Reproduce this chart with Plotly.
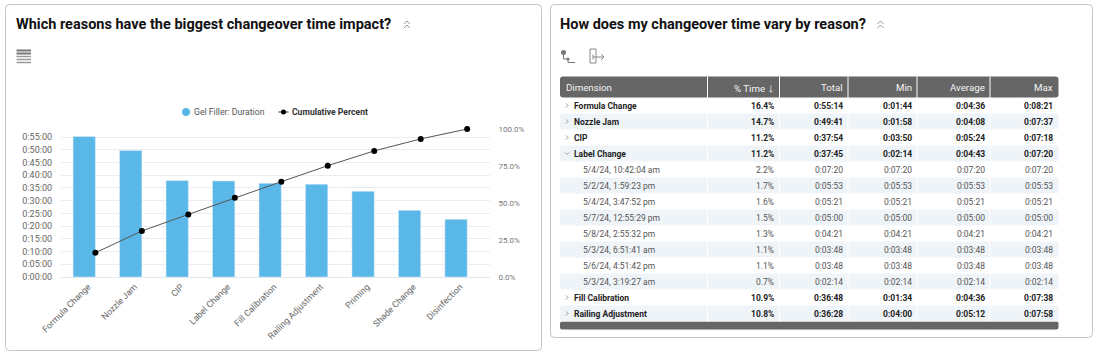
import plotly.graph_objects as go

W, H = 1100, 358

# ---- Pareto data
reasons = ["Formula Change", "Nozzle Jam", "CIP", "Label Change", "Fill Calibration",
           "Railing Adjustment", "Priming", "Shade Change", "Disinfection"]
duration_text = ["0:55:14", "0:49:41", "0:37:54", "0:37:45", "0:36:48", "0:36:28", "0:33:40", "0:26:11", "0:22:39"]
cumulative_pct = [16.4, 31.1, 42.3, 53.5, 64.4, 75.2, 85.2, 93.3, 100.0]
left_tick_labels = ["0:00:00", "0:05:00", "0:10:00", "0:15:00", "0:20:00", "0:25:00", "0:30:00",
                    "0:35:00", "0:40:00", "0:45:00", "0:50:00", "0:55:00"]
right_tick_vals = [0, 25, 50, 75, 100]
right_tick_labels = ["0.0%", "25.0%", "50.0%", "75.0%", "100.0%"]

# ---- Table data
dimension = ["Formula Change", "Nozzle Jam", "CIP", "Label Change",
             "5/4/24, 10:42:04 am", "5/2/24, 1:59:23 pm", "5/4/24, 3:47:52 pm", "5/7/24, 12:55:29 pm",
             "5/8/24, 2:55:32 pm", "5/3/24, 6:51:41 am", "5/6/24, 4:51:42 pm", "5/3/24, 3:19:27 am",
             "Fill Calibration", "Railing Adjustment"]
row_level = [0, 0, 0, 0, 1, 1, 1, 1, 1, 1, 1, 1, 0, 0]
row_open = [0, 0, 0, 1, 0, 0, 0, 0, 0, 0, 0, 0, 0, 0]
pct_time = ["16.4%", "14.7%", "11.2%", "11.2%", "2.2%", "1.7%", "1.6%", "1.5%", "1.3%", "1.1%", "1.1%", "0.7%", "10.9%", "10.8%"]
total_t = ["0:55:14", "0:49:41", "0:37:54", "0:37:45", "0:07:20", "0:05:53", "0:05:21", "0:05:00", "0:04:21", "0:03:48", "0:03:48", "0:02:14", "0:36:48", "0:36:28"]
min_t = ["0:01:44", "0:01:58", "0:03:50", "0:02:14", "0:07:20", "0:05:53", "0:05:21", "0:05:00", "0:04:21", "0:03:48", "0:03:48", "0:02:14", "0:01:34", "0:04:00"]
avg_t = ["0:04:36", "0:04:08", "0:05:24", "0:04:43", "0:07:20", "0:05:53", "0:05:21", "0:05:00", "0:04:21", "0:03:48", "0:03:48", "0:02:14", "0:04:36", "0:05:12"]
max_t = ["0:08:21", "0:07:37", "0:07:18", "0:07:20", "0:07:20", "0:05:53", "0:05:21", "0:05:00", "0:04:21", "0:03:48", "0:03:48", "0:02:14", "0:07:38", "0:07:58"]
headers = ["Dimension", "% Time ↓", "Total", "Min", "Average", "Max"]
col_edges = [560, 707.5, 779.5, 848, 917, 990, 1058.5]


def secs(t):
    h, m, s = t.split(":")
    return int(h) * 3600 + int(m) * 60 + int(s)


def px(x):
    return x / W


def py(y):
    return 1 - y / H


BLUE = "#5ab8e8"
GREY = "#666666"
TABLE_TOP = 76.5
HEADER_H = 21
ROW_H = 16
TABLE_BOTTOM = TABLE_TOP + HEADER_H + ROW_H * len(dimension)

fig = go.Figure()
fig.add_trace(go.Bar(x=reasons, y=[secs(t) for t in duration_text], width=0.48,
                     marker=dict(color=BLUE), xaxis="x", yaxis="y", showlegend=False))
fig.add_trace(go.Scatter(x=reasons, y=cumulative_pct, mode="lines+markers", xaxis="x2", yaxis="y2",
                         line=dict(color="#555555", width=1), cliponaxis=False,
                         marker=dict(color="#000000", size=6), showlegend=False))


def rrect(x0, y0, x1, y1, r):
    X0, X1, Y0, Y1 = px(x0), px(x1), py(y0), py(y1)
    rx, ry = r / W, r / H
    return (f"M{X0+rx},{Y0} L{X1-rx},{Y0} Q{X1},{Y0} {X1},{Y0-ry} L{X1},{Y1+ry} Q{X1},{Y1} {X1-rx},{Y1} "
            f"L{X0+rx},{Y1} Q{X0},{Y1} {X0},{Y1+ry} L{X0},{Y0-ry} Q{X0},{Y0} {X0+rx},{Y0} Z")


def rshape(x0, y0, x1, y1, r, fill, line=None):
    return dict(type="path", xref="paper", yref="paper", path=rrect(x0, y0, x1, y1, r),
                fillcolor=fill, line=line or dict(width=0), layer="below")


def path(points, **kw):
    d = "M" + " L".join(f"{px(a)},{py(b)}" for a, b in points)
    return dict(type="path", xref="paper", yref="paper", path=d, **kw)


def hline(x0, x1, y, color, w):
    return dict(type="line", xref="paper", yref="paper", x0=px(x0), x1=px(x1), y0=py(y), y1=py(y),
                line=dict(color=color, width=w))


card = dict(color="#c4c4c4", width=1)
clear = "rgba(0,0,0,0)"
shapes = [
    rshape(5.5, 4.5, 541.5, 350.5, 4, clear, card),
    rshape(550.5, 4.5, 1092.5, 337.5, 4, clear, card),
    # table header and footer
    rshape(col_edges[0], TABLE_TOP, col_edges[-1], TABLE_TOP + HEADER_H, 3, GREY),
    rshape(col_edges[0], TABLE_BOTTOM, col_edges[-1], TABLE_BOTTOM + 8, 2, GREY),
    # legend swatches
    dict(type="circle", xref="paper", yref="paper", x0=px(182), x1=px(190), y0=py(116), y1=py(108),
         fillcolor=BLUE, line=dict(width=0)),
    hline(278.5, 288.5, 112, "#333333", 1),
    dict(type="circle", xref="paper", yref="paper", x0=px(281), x1=px(286), y0=py(114.5), y1=py(109.5),
         fillcolor="#000000", line=dict(width=0)),
]
# banded rows
for i in range(1, len(dimension), 2):
    y0 = TABLE_TOP + HEADER_H + ROW_H * i
    shapes.append(rshape(col_edges[0], y0, col_edges[-1], y0 + ROW_H, 2, "#eff4f9"))
# column separators
for e in col_edges[1:-1]:
    shapes.append(dict(type="line", xref="paper", yref="paper", x0=px(e), x1=px(e), y0=py(TABLE_BOTTOM), y1=py(TABLE_TOP),
                       line=dict(color="#ffffff", width=1), layer="below"))
# collapse chevrons next to the titles
for cx in (407, 880.5):
    for dy in (0, 4):
        shapes.append(path([(cx - 3, 24 + dy), (cx, 21 + dy), (cx + 3, 24 + dy)], line=dict(color="#999999", width=1)))
# row expand chevrons
for i, level in enumerate(row_level):
    if level == 0:
        cy = TABLE_TOP + HEADER_H + ROW_H * (i + 0.5)
        pts = [(565, cy - 1), (567, cy + 1), (569, cy - 1)] if row_open[i] else [(566, cy - 2), (568, cy), (566, cy + 2)]
        shapes.append(path(pts, line=dict(color="#999999", width=1)))
# table icon
for y, c, w in [(50.5, "#777777", 2), (53.5, "#777777", 2), (56.5, "#999999", 1.5), (59.5, "#999999", 1.5), (62.5, "#999999", 1.5)]:
    shapes.append(hline(16.5, 31, y, c, w))
# tree icon
shapes += [
    dict(type="circle", xref="paper", yref="paper", x0=px(561), x1=px(566), y0=py(55), y1=py(50),
         fillcolor="#777777", line=dict(width=0)),
    path([(563.5, 55), (563.5, 59), (568, 59), (568, 62.5), (575, 62.5)], line=dict(color="#777777", width=1)),
    dict(type="circle", xref="paper", yref="paper", x0=px(566.5), x1=px(569.5), y0=py(60.5), y1=py(57.5),
         fillcolor="#777777", line=dict(width=0)),
    dict(type="rect", xref="paper", yref="paper", x0=px(590), x1=px(596), y0=py(63), y1=py(49),
         line=dict(color="#888888", width=1)),
    path([(593, 57), (604, 57)], line=dict(color="#888888", width=1)),
    path([(593, 54.5), (593, 59.5)], line=dict(color="#888888", width=1)),
    path([(601, 54), (604, 57), (601, 60)], line=dict(color="#888888", width=1)),
]


def note(text, x, y, size, color, anchor="left", bold=False):
    shift = -2 if anchor == "left" else 2  # annotation boxes carry their own padding
    return dict(text=f"<b>{text}</b>" if bold else text, xref="paper", yref="paper", x=px(x + shift), y=py(y),
                xanchor=anchor, yanchor="middle", showarrow=False,
                font=dict(family="Roboto", size=size, color=color))


annotations = [
    note("Which reasons have the biggest changeover time impact?", 16, 24, 14.5, "#111111", bold=True),
    note("How does my changeover time vary by reason?", 560, 24, 14.5, "#111111", bold=True),
    note("Gel Filler: Duration", 194, 112, 8.7, "#555555"),
    note("Cumulative Percent", 292, 112, 8.6, "#333333", bold=True),
]
# table header
header_y = TABLE_TOP + HEADER_H / 2 + 0.5
annotations.append(note(headers[0], 565.5, header_y, 9.7, "#f4f4f4"))
for j, h in enumerate(headers[1:], start=2):
    label = h.replace("↓", "<span style='font-size:13px'>↓</span>")
    annotations.append(note(label, col_edges[j] - 5.5, header_y, 9.7, "#f4f4f4", anchor="right"))
# table body
for i, name in enumerate(dimension):
    parent = row_level[i] == 0
    cy = TABLE_TOP + HEADER_H + ROW_H * (i + 0.5) + 0.6
    color = "#222222" if parent else "#555555"
    annotations.append(note(name, 573.7 if parent else 582.7, cy, 8.5, color, bold=parent))
    for j, col in enumerate((pct_time, total_t, min_t, avg_t, max_t), start=2):
        annotations.append(note(col[i], col_edges[j] - 5.5, cy, 8.5, color, anchor="right", bold=parent))

cat_span = [-0.5, 8.72]
line_shift = 0.24
fig.update_layout(
    width=W, height=H, margin=dict(l=0, r=0, t=0, b=0, autoexpand=False),
    paper_bgcolor="#ffffff", plot_bgcolor="#ffffff", showlegend=False,
    font=dict(family="Roboto", color="#666666"),
    xaxis=dict(domain=[px(61), px(489.5)], range=cat_span, type="category", categoryorder="array",
               categoryarray=reasons, tickangle=-45, ticks="", showline=False, showgrid=False,
               tickfont=dict(size=8.8, color="#666666"), anchor="y", ticklabelshift=4, ticklabelstandoff=2),
    xaxis2=dict(domain=[px(61), px(489.5)], range=[cat_span[0] - line_shift, cat_span[1] - line_shift],
                type="category", categoryorder="array", categoryarray=reasons, overlaying="x",
                visible=False, anchor="y2"),
    yaxis=dict(domain=[py(277), py(129)], range=[0, 148 / 2.545 * 60], anchor="x",
               tickvals=[secs(t) for t in left_tick_labels], ticktext=left_tick_labels,
               gridcolor="#e8eef4", gridwidth=1, zeroline=True, zerolinecolor="#e0e8f0", zerolinewidth=1,
               showline=False, ticks="", tickfont=dict(size=9, color="#666666"), ticklabelstandoff=8),
    yaxis2=dict(domain=[py(277), py(129)], range=[0, 100], overlaying="y", side="right", anchor="x2",
                tickvals=right_tick_vals, ticktext=right_tick_labels, showgrid=False, zeroline=False,
                showline=False, ticks="", tickfont=dict(size=8, color="#777777"), ticklabelstandoff=8),
    shapes=shapes, annotations=annotations,
)

fig.write_html("out.html", config={"displayModeBar": False},
               post_script="document.body.style.margin='0';document.body.style.overflow='hidden';")
